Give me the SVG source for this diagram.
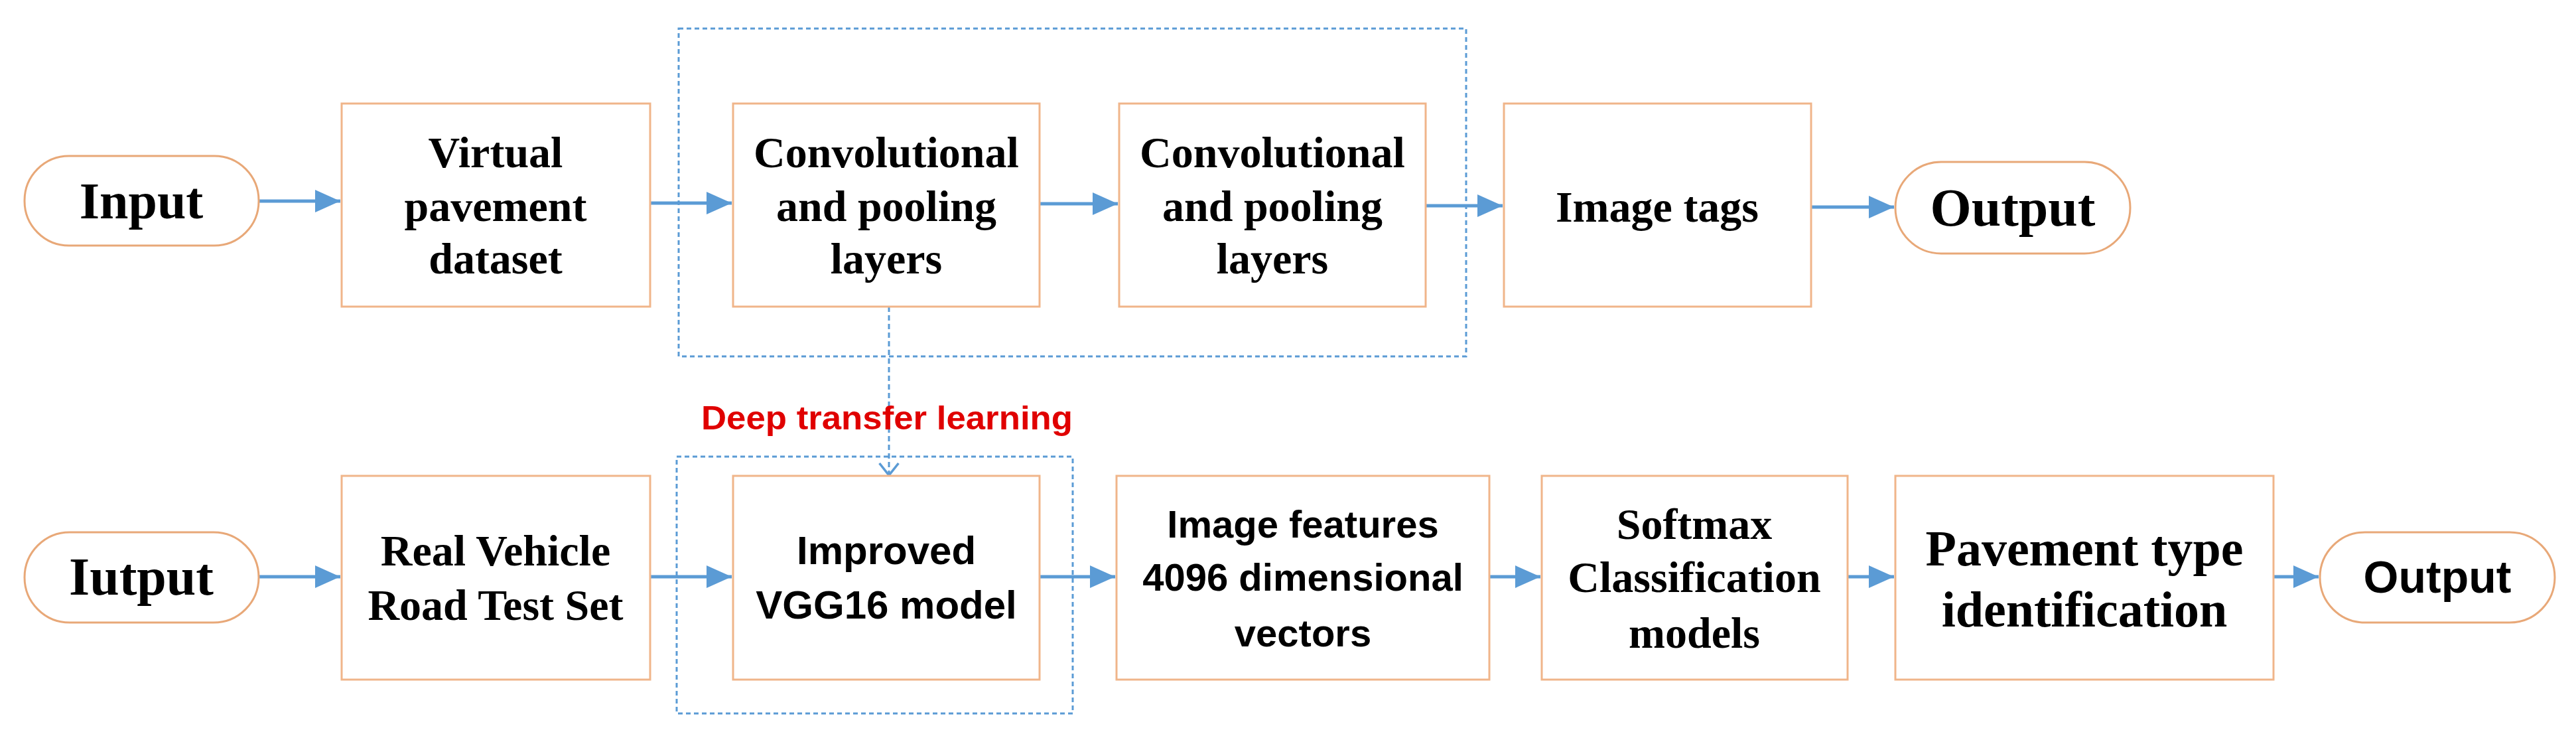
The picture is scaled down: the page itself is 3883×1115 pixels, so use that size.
<svg xmlns="http://www.w3.org/2000/svg" width="3883" height="1115" viewBox="0 0 3883 1115">
<defs>
<style>
.box{fill:#fff;stroke:#F0B58A;stroke-width:3}
.pill{fill:#fff;stroke:#E8A878;stroke-width:3}
.ser{font-family:"Liberation Serif",serif;font-weight:bold;fill:#000;text-anchor:middle}
.san{font-family:"Liberation Sans",sans-serif;font-weight:bold;fill:#000;text-anchor:middle}
.arr{stroke:#5B9BD5;stroke-width:5;fill:none;marker-end:url(#ah)}
.dot{fill:none;stroke:#5B9BD5;stroke-width:3;stroke-dasharray:7,5}
</style>
<marker id="ah" viewBox="0 0 10 10" refX="10" refY="5" markerWidth="38" markerHeight="34" markerUnits="userSpaceOnUse" orient="auto" preserveAspectRatio="none">
<path d="M0,0 L10,5 L0,10 z" fill="#5B9BD5"/>
</marker>
<marker id="oh" viewBox="0 0 20 20" refX="10" refY="18" markerWidth="36" markerHeight="36" markerUnits="userSpaceOnUse" orient="0">
<path d="M2,8 L10,18 L18,8" fill="none" stroke="#5B9BD5" stroke-width="2"/>
</marker>
</defs>
<rect width="3883" height="1115" fill="#fff"/>
<g id="groups">
<rect class="dot" x="1023" y="43" width="1187" height="494"/>
<rect class="dot" x="1020" y="688" width="597" height="387"/>
</g>
<g id="connectors">
<line class="arr" x1="390" y1="303" x2="513" y2="303"/>
<line class="arr" x1="980" y1="306" x2="1103" y2="306"/>
<line class="arr" x1="1567" y1="307" x2="1685" y2="307"/>
<line class="arr" x1="2149" y1="310" x2="2265" y2="310"/>
<line class="arr" x1="2730" y1="312" x2="2855" y2="312"/>
<line x1="1340" y1="462" x2="1340" y2="716" stroke="#5B9BD5" stroke-width="3" stroke-dasharray="8,5" marker-end="url(#oh)"/>
<line class="arr" x1="390" y1="869" x2="513" y2="869"/>
<line class="arr" x1="980" y1="869" x2="1103" y2="869"/>
<line class="arr" x1="1567" y1="869" x2="1681" y2="869"/>
<line class="arr" x1="2134" y1="869" x2="2322" y2="869"/>
<line class="arr" x1="2785" y1="869" x2="2855" y2="869"/>
<line class="arr" x1="3427" y1="869" x2="3495" y2="869"/>
</g>
<g id="input"><rect class="pill" x="37" y="235" width="353" height="135" rx="67"/><text class="ser" x="213" y="329" font-size="78">Input</text></g>
<g id="virtual"><rect class="box" x="515" y="156" width="465" height="306"/>
<text class="ser" font-size="66"><tspan x="747" y="252">Virtual</tspan><tspan x="747" y="333">pavement</tspan><tspan x="747" y="412">dataset</tspan></text></g>
<g id="conv1"><rect class="box" x="1105" y="156" width="462" height="306"/>
<text class="ser" font-size="66"><tspan x="1336" y="252">Convolutional</tspan><tspan x="1336" y="333">and pooling</tspan><tspan x="1336" y="412">layers</tspan></text></g>
<g id="conv2"><rect class="box" x="1687" y="156" width="462" height="306"/>
<text class="ser" font-size="66"><tspan x="1918" y="252">Convolutional</tspan><tspan x="1918" y="333">and pooling</tspan><tspan x="1918" y="412">layers</tspan></text></g>
<g id="tags"><rect class="box" x="2267" y="156" width="463" height="306"/><text class="ser" font-size="66" x="2498" y="334">Image tags</text></g>
<g id="output1"><rect class="pill" x="2857" y="244" width="354" height="138" rx="69"/><text class="ser" x="3034" y="340" font-size="80">Output</text></g>
<text x="1337" y="647" font-family="Liberation Sans,sans-serif" font-weight="bold" font-size="50" fill="#E00000" text-anchor="middle" textLength="560" lengthAdjust="spacingAndGlyphs">Deep transfer learning</text>
<g id="iutput"><rect class="pill" x="37" y="802" width="353" height="136" rx="68"/><text class="ser" x="213" y="896" font-size="80">Iutput</text></g>
<g id="real"><rect class="box" x="515" y="717" width="465" height="307"/>
<text class="ser" font-size="66"><tspan x="747" y="852">Real Vehicle</tspan><tspan x="747" y="934">Road Test Set</tspan></text></g>
<g id="vgg"><rect class="box" x="1105" y="717" width="462" height="307"/>
<text class="san" font-size="60"><tspan x="1336" y="850">Improved</tspan><tspan x="1336" y="932">VGG16 model</tspan></text></g>
<g id="features"><rect class="box" x="1683" y="717" width="562" height="307"/>
<text class="san" font-size="58"><tspan x="1964" y="810">Image features</tspan><tspan x="1964" y="890">4096 dimensional</tspan><tspan x="1964" y="974">vectors</tspan></text></g>
<g id="softmax"><rect class="box" x="2324" y="717" width="461" height="307"/>
<text class="ser" font-size="66"><tspan x="2554" y="812">Softmax</tspan><tspan x="2554" y="892">Classification</tspan><tspan x="2554" y="976">models</tspan></text></g>
<g id="ptype"><rect class="box" x="2857" y="717" width="570" height="307"/>
<text class="ser" font-size="76"><tspan x="3142" y="852">Pavement type</tspan><tspan x="3142" y="944">identification</tspan></text></g>
<g id="output2"><rect class="pill" x="3497" y="802" width="354" height="136" rx="68"/><text class="san" x="3674" y="893" font-size="68">Output</text></g>
</svg>
